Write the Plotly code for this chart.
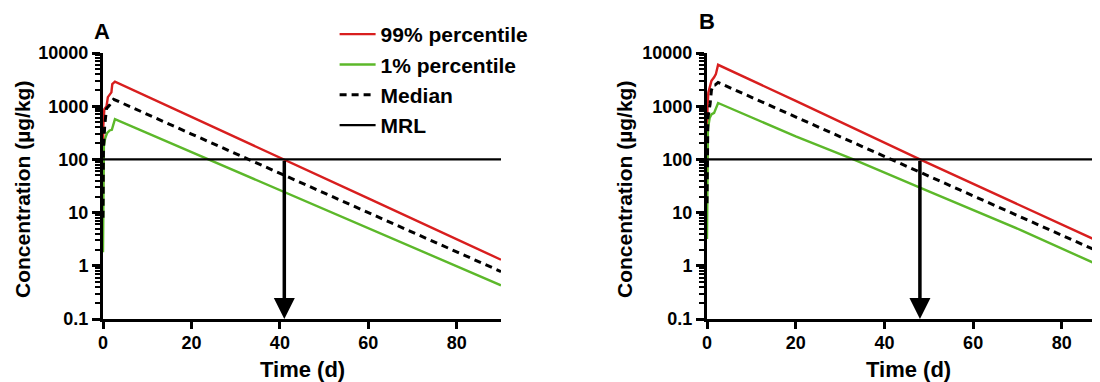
import plotly.graph_objects as go

# ---------------- data ----------------
# Panel A
tA_p99 = [0, 0.05, 0.3, 0.8, 1.1, 1.9, 2.1, 2.7, 20, 41, 60, 90]
cA_p99 = [30, 400, 880, 1000, 1480, 1820, 2600, 2900, 630, 100, 18.5, 1.3]
tA_med = [0, 0.1, 0.4, 0.8, 1.5, 2.0, 2.4, 20, 40, 60, 90]
cA_med = [8, 150, 450, 900, 1050, 1200, 1350, 300, 55, 10.2, 0.78]
tA_p01 = [0, 0.05, 0.2, 0.5, 0.9, 1.5, 2.0, 2.7, 20, 40, 60, 70, 90]
cA_p01 = [1.8, 25, 180, 250, 310, 350, 360, 570, 137, 26, 5.1, 2.2, 0.43]

# Panel B
tB_p99 = [0, 0.1, 0.3, 0.7, 1.0, 1.6, 2.0, 2.5, 20, 48, 70, 88.6]
cB_p99 = [55, 900, 1800, 2400, 3000, 3500, 4000, 6000, 1260, 100, 14.5, 2.8]
tB_med = [0, 0.2, 0.7, 1.0, 1.4, 1.8, 2.5, 20, 40, 60, 88.6]
cB_med = [15, 600, 1100, 2000, 2500, 2500, 2800, 630, 114, 20.7, 1.8]
tB_p01 = [0, 0.05, 0.2, 0.6, 1.0, 1.6, 2.0, 2.5, 20, 33, 50, 71, 88.6]
cB_p01 = [3.2, 60, 370, 600, 700, 750, 900, 1150, 270, 100, 25, 4.6, 1.0]

mrl_value = 100
mrl_tA = [0, 90]
mrl_tB = [0, 88.6]
withdrawal_times = [41, 48]   # arrows (A, B)

y_tickvals = [0.1, 1, 10, 100, 1000, 10000]
y_ticktext = ["0.1", "1", "10", "100", "1000", "10000"]
y_minor_vals = [m * d for d in (0.1, 1, 10, 100, 1000) for m in range(2, 10)]
x_tickvals = [0, 20, 40, 60, 80]

RED = "#d81e1e"
GREEN = "#5cb82a"
FONT = "Liberation Sans, Arial, sans-serif"

W, H, OFF = 1100, 382, 8   # page body margin offset compensation


def PX(x):
    return (x - OFF) / W


def PY(y):
    return 1 - (y - OFF) / H


fig = go.Figure()


def add_panel(xa, ya, t99, c99, tmed, cmed, t01, c01, tmrl, show):
    fig.add_trace(go.Scatter(x=t99, y=c99, mode="lines", name="99% percentile",
                             line=dict(color=RED, width=2.4), xaxis=xa, yaxis=ya,
                             showlegend=show, legendgroup="a"))
    fig.add_trace(go.Scatter(x=t01, y=c01, mode="lines", name="1% percentile",
                             line=dict(color=GREEN, width=2.4), xaxis=xa, yaxis=ya,
                             showlegend=show, legendgroup="b"))
    fig.add_trace(go.Scatter(x=tmed, y=cmed, mode="lines", name="Median",
                             line=dict(color="black", width=3, dash="7px,5px"),
                             xaxis=xa, yaxis=ya, showlegend=show, legendgroup="c"))
    fig.add_trace(go.Scatter(x=tmrl, y=[mrl_value] * len(tmrl), mode="lines", name="MRL",
                             line=dict(color="black", width=2.2), xaxis=xa, yaxis=ya,
                             showlegend=show, legendgroup="d"))


add_panel("x", "y", tA_p99, cA_p99, tA_med, cA_med, tA_p01, cA_p01, mrl_tA, True)
add_panel("x2", "y2", tB_p99, cB_p99, tB_med, cB_med, tB_p01, cB_p01, mrl_tB, False)

ydom = [PY(319), PY(53)]
common_x = dict(showline=True, linewidth=3, linecolor="black", ticks="outside",
                ticklen=7, tickwidth=2.5, tickcolor="black", showgrid=False,
                zeroline=False, tickvals=x_tickvals, automargin=False,
                ticklabelstandoff=-2,
                tickfont=dict(family=FONT, size=18, color="black", weight="bold"))
common_y = dict(type="log", range=[-1, 4], showline=True, linewidth=3, linecolor="black",
                ticks="outside", ticklen=8, tickwidth=2.5, tickcolor="black",
                showgrid=False, zeroline=False, tickmode="array",
                tickvals=y_tickvals, ticktext=y_ticktext,
                automargin=False,
                minor=dict(tickmode="array", tickvals=y_minor_vals, ticks="outside",
                           ticklen=5, tickwidth=2, tickcolor="black", showgrid=False),
                tickfont=dict(family=FONT, size=18, color="black", weight="bold"))

fig.update_layout(
    width=W, height=H,
    margin=dict(l=0, r=0, t=0, b=0, pad=0, autoexpand=False),
    paper_bgcolor="white", plot_bgcolor="white",
    font=dict(family=FONT, color="black"),
    xaxis=dict(domain=[PX(103), PX(501)], range=[0, 90], anchor="y", **common_x),
    yaxis=dict(domain=ydom, anchor="x", **common_y),
    xaxis2=dict(domain=[PX(707), PX(1100)], range=[0, 88.6], anchor="y2", **common_x),
    yaxis2=dict(domain=ydom, anchor="x2", **common_y),
    legend=dict(x=PX(334.6), y=PY(14), xanchor="left",
                yanchor="top", itemwidth=36,
                font=dict(family=FONT, size=21, color="black", weight="bold"),
                tracegroupgap=0, bgcolor="rgba(0,0,0,0)"),
    showlegend=True,
)

# arrows from MRL down to the time axis
for xa, ya, tw in [("x", "y", withdrawal_times[0]), ("x2", "y2", withdrawal_times[1])]:
    fig.add_annotation(x=tw, y=-1, ax=tw, ay=2, xref=xa, yref=ya, axref=xa, ayref=ya,
                       showarrow=True, arrowhead=2, arrowsize=1.2, arrowwidth=3.5,
                       arrowcolor="black", text="")


def label(xc, yc, text, size, angle=0):
    fig.add_annotation(x=PX(xc), y=PY(yc), xref="paper", yref="paper",
                       xanchor="center", yanchor="middle", text=text, textangle=angle,
                       showarrow=False, font=dict(family=FONT, size=size, weight="bold"))


# panel letters
label(102, 32, "A", 22)
label(707, 22, "B", 22)
# axis titles
label(22, 190, "Concentration (µg/kg)", 21, -90)
label(624, 190, "Concentration (µg/kg)", 21, -90)
label(302, 369, "Time (d)", 22)
label(908, 369, "Time (d)", 22)

fig.write_html("out.html")
